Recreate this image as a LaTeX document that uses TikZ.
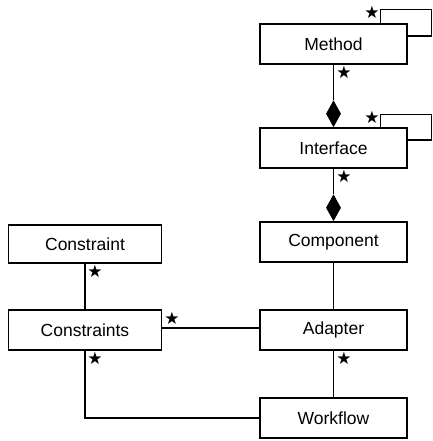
\documentclass[tikz,border=0pt]{standalone}
\usepackage{fontspec}
\setmainfont{Liberation Sans}
\newfontfamily\symfont{DejaVu Sans}
\usetikzlibrary{shapes.geometric}
\begin{document}
\begin{tikzpicture}[x=1pt,y=-1pt,
 cls/.style={draw, line width=1.1pt, minimum width=147pt, minimum height=40pt, font=\fontsize{17.5}{20}\selectfont, inner sep=0pt},
 conn/.style={line width=1.1pt},
 mult/.style={font=\symfont\fontsize{17}{17}\selectfont, inner sep=0pt},
 comp/.style={diamond, fill=black, minimum width=15pt, minimum height=27pt, inner sep=0pt, draw=none}]
\useasboundingbox (0,0) rectangle (432,441);
\node[cls] (method) at (333.5,44) {Method};
\node[cls] (interface) at (333.5,148) {Interface};
\node[cls] (component) at (333.5,242) {Component};
\node[cls] (adapter) at (333.5,330) {Adapter};
\node[cls] (workflow) at (333.5,418) {Workflow};
\node[cls, minimum width=153pt, minimum height=38pt] (constraint) at (85,244) {Constraint};
\node[cls, minimum width=153pt] (constraints) at (85,330) {Constraints};
% composition diamonds
\node[comp, anchor=south] (d1) at (interface.north) {};
\node[comp, anchor=south] (d2) at (component.north) {};
\draw[conn] (method.south) -- (d1.north);
\draw[conn] (interface.south) -- (d2.north);
% self loops
\draw[conn] ([xshift=-27pt]method.north east) -- ++(0,-14) -- ++(51,0) |- ([yshift=8pt]method.east);
\draw[conn] ([xshift=-27pt]interface.north east) -- ++(0,-13) -- ++(51,0) |- ([yshift=8pt]interface.east);
% other connectors
\draw[conn] (component.south) -- (adapter.north);
\draw[conn] (constraint.south) -- (constraints.north);
\draw[conn] ([yshift=2pt]constraints.east) -- ([yshift=2pt]adapter.west);
\draw[conn] (adapter.south) -- (workflow.north);
\draw[conn] (constraints.south) |- (workflow.west);
% multiplicities
\node[mult] (s1) at (372,12) {★};
\node[mult] (s2) at (344,72) {★};
\node[mult] (s3) at (372,117) {★};
\node[mult] (s4) at (344,176) {★};
\node[mult] (s5) at (95,271) {★};
\node[mult] (s6) at (172,318) {★};
\node[mult] (s7) at (95,358) {★};
\node[mult] (s8) at (344,358) {★};
\end{tikzpicture}
\end{document}
